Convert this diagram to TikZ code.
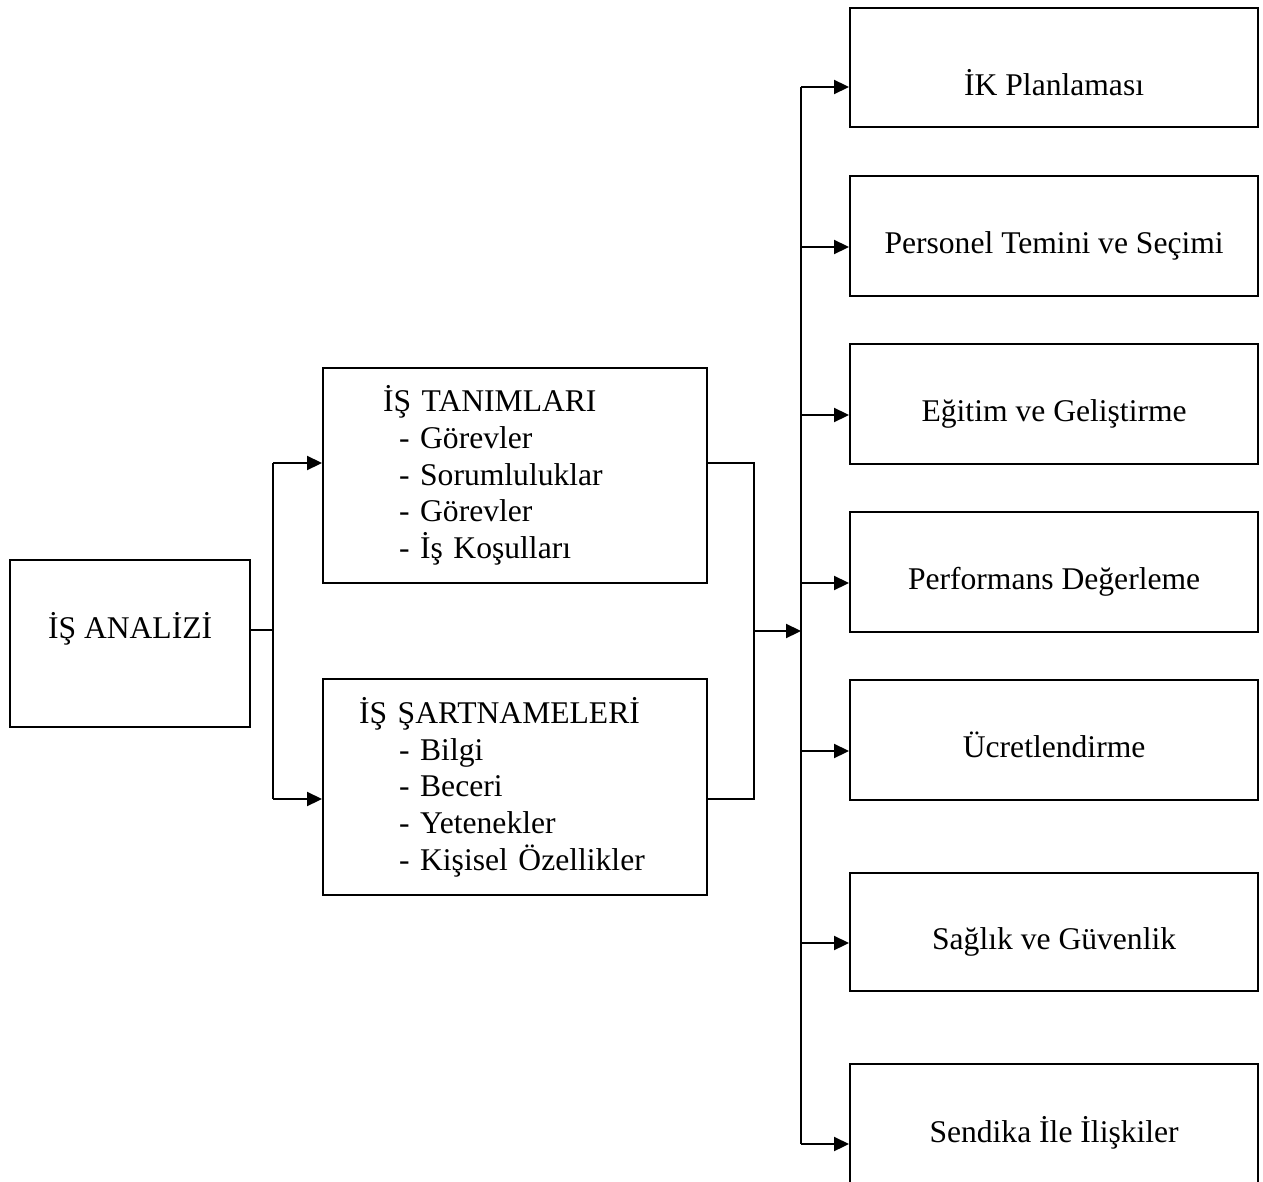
\documentclass[tikz,border=0pt]{standalone}
\usepackage{fontspec}
\setmainfont{Liberation Serif}
\usepackage{tikz}
\usetikzlibrary{arrows.meta,positioning}

\begin{document}
\begin{tikzpicture}[
        x=0.5pt, y=-0.5pt,
    every path/.style={line width=1.1pt},
    every node/.style={font=\fontsize{15.8}{18.35}\selectfont},
    kutu/.style={draw, anchor=north west},
    lkutu/.style={kutu, align=left, inner ysep=0pt},
    rkutu/.style 2 args={kutu, minimum width=204pt, inner ysep=0pt,
        text height=#1, text depth=#2},
    ok/.style={-{Triangle[length=7.5pt,width=7pt]}}
]
    \useasboundingbox (0,0) rectangle (1263,1182);

    \node[kutu, minimum width=120pt, inner ysep=0pt,
        text height=39pt, text depth=44.5pt] (analiz) at (9,559) {İŞ ANALİZİ};

    \node[lkutu, text width=132pt, inner xsep=30pt, minimum height=107.5pt]
        (tanim) at (322,367)
        {İŞ TANIMLARI\\
        \hspace*{8pt}- Görevler\\
        \hspace*{8pt}- Sorumluluklar\\
        \hspace*{8pt}- Görevler\\
        \hspace*{8pt}- İş Koşulları};
    \node[lkutu, text width=156pt, inner xsep=18pt, minimum height=108pt]
        (sartname) at (322,678)
        {İŞ ŞARTNAMELERİ\\
        \hspace*{20pt}- Bilgi\\
        \hspace*{20pt}- Beceri\\
        \hspace*{20pt}- Yetenekler\\
        \hspace*{20pt}- Kişisel Özellikler};

    \node[rkutu={43.5pt}{16pt}] (plan) at (849,7) {İK Planlaması};
    \node[rkutu={38.5pt}{21.5pt}] (temin) at (849,175) {Personel Temini ve Seçimi};
    \node[rkutu={38.5pt}{21.5pt}] (egitim) at (849,343) {Eğitim ve Geliştirme};
    \node[rkutu={38.5pt}{21.5pt}] (perf) at (849,511) {Performans Değerleme};
    \node[rkutu={38.5pt}{21.5pt}] (ucret) at (849,679) {Ücretlendirme};
    \node[rkutu={38pt}{21pt}] (saglik) at (849,872) {Sağlık ve Güvenlik};
    \node[rkutu={39pt}{22pt}] (sendika) at (849,1063) {Sendika İle İlişkiler};

    \coordinate (sol) at (273,630);
    \coordinate (solu) at (273,463);
    \coordinate (sola) at (273,799);
    \coordinate (sagu) at (754,463);
    \coordinate (saga) at (754,799);
    \coordinate (sagm) at (754,631);
    \coordinate (k1) at (801,87);
    \coordinate (k2) at (801,247);
    \coordinate (k3) at (801,415);
    \coordinate (k4) at (801,583);
    \coordinate (k5) at (801,751);
    \coordinate (k6) at (801,943);
    \coordinate (k7) at (801,1144);

    \draw (analiz.east |- sol) -- (sol);
    \draw (solu) -- (sola);
    \draw [ok] (solu) -- (solu -| tanim.west);
    \draw [ok] (sola) -- (sola -| sartname.west);
    \draw (sagu -| tanim.east) -- (sagu)
        -- (saga) -- (saga -| sartname.east);
    \draw [ok] (sagm) -- (sagm -| k1);

    \draw (k1) -- (k7);
    \draw [ok] (k1) -- (k1 -| plan.west);
    \draw [ok] (k2) -- (k2 -| temin.west);
    \draw [ok] (k3) -- (k3 -| egitim.west);
    \draw [ok] (k4) -- (k4 -| perf.west);
    \draw [ok] (k5) -- (k5 -| ucret.west);
    \draw [ok] (k6) -- (k6 -| saglik.west);
    \draw [ok] (k7) -- (k7 -| sendika.west);
\end{tikzpicture}
\end{document}
